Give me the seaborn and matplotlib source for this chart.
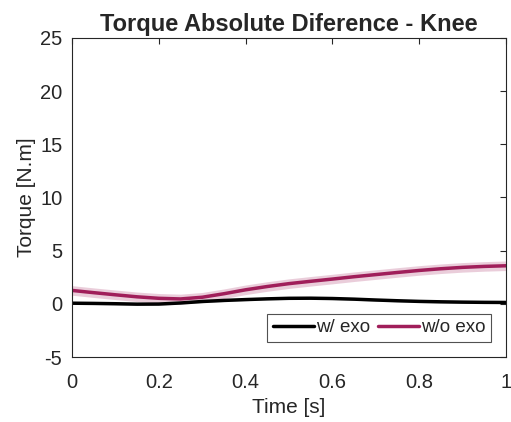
import numpy as np
import pandas as pd
import matplotlib
matplotlib.use("Agg")
import matplotlib.pyplot as plt
import seaborn as sns

time = [0.0, 0.05, 0.1, 0.15, 0.2, 0.25, 0.3, 0.35, 0.4, 0.45, 0.5,
        0.55, 0.6, 0.65, 0.7, 0.75, 0.8, 0.85, 0.9, 0.95, 1.0]
with_exo = [0.06, 0.04, 0.01, -0.03, -0.02, 0.08, 0.22, 0.32, 0.4, 0.47, 0.52,
            0.53, 0.5, 0.44, 0.36, 0.29, 0.23, 0.19, 0.16, 0.14, 0.13]
without_exo = [1.26, 1.05, 0.85, 0.66, 0.52, 0.46, 0.62, 0.95, 1.32, 1.63, 1.9,
               2.12, 2.33, 2.55, 2.75, 2.95, 3.14, 3.3, 3.43, 3.52, 3.58]
with_exo_sd = [0.1] * 21
without_exo_sd = [0.45] * 21

labels = ["w/ exo", "w/o exo"]
colors = ["#000000", "#A01E5A"]

sns.set_theme(style="white")
plt.rcParams["font.family"] = ["Liberation Sans", "DejaVu Sans"]
plt.rcParams["axes.unicode_minus"] = False

fig = plt.figure(figsize=(5.11, 4.22), dpi=100)
ax = fig.add_axes([0.141, 0.154, 0.849, 0.756])

df = pd.DataFrame({
    "time": time * 2,
    "torque": with_exo + without_exo,
    "group": [labels[0]] * len(time) + [labels[1]] * len(time),
})

ax.fill_between(time, np.array(with_exo) - np.array(with_exo_sd),
                np.array(with_exo) + np.array(with_exo_sd),
                color="#888888", alpha=0.35, lw=0)
ax.fill_between(time, np.array(without_exo) - np.array(without_exo_sd),
                np.array(without_exo) + np.array(without_exo_sd),
                color=colors[1], alpha=0.22, lw=0)

sns.lineplot(data=df, x="time", y="torque", hue="group", palette=colors,
             linewidth=2.5, ax=ax)

ax.set_xlim(0, 1)
ax.set_ylim(-5, 25)
ax.set_xticks([0, 0.2, 0.4, 0.6, 0.8, 1])
ax.set_xticklabels(["0", "0.2", "0.4", "0.6", "0.8", "1"])
ax.set_yticks([-5, 0, 5, 10, 15, 20, 25])
ax.tick_params(direction="in", length=4, width=0.8, colors="#262626",
               labelsize=14.5, top=True, right=True)
ax.tick_params(axis="x", pad=11.5)
ax.tick_params(axis="y", pad=7)
for s in ax.spines.values():
    s.set_color("#262626")
    s.set_linewidth(0.8)

ax.set_xlabel("Time [s]", fontsize=15, color="#262626", labelpad=4)
ax.set_ylabel("Torque [N.m]", fontsize=15, color="#262626", labelpad=3)
ax.set_title("Torque Absolute Diference - Knee", fontsize=17,
             fontweight="bold", pad=5)

leg = ax.legend(loc="lower right", ncol=2, fontsize=13.5, frameon=True,
                fancybox=False, edgecolor="#262626", handlelength=2.2,
                handletextpad=0.1, columnspacing=0.4, borderpad=0.3,
                borderaxespad=0.8)
leg.get_frame().set_linewidth(0.8)

fig.savefig("out.png", dpi=100)
